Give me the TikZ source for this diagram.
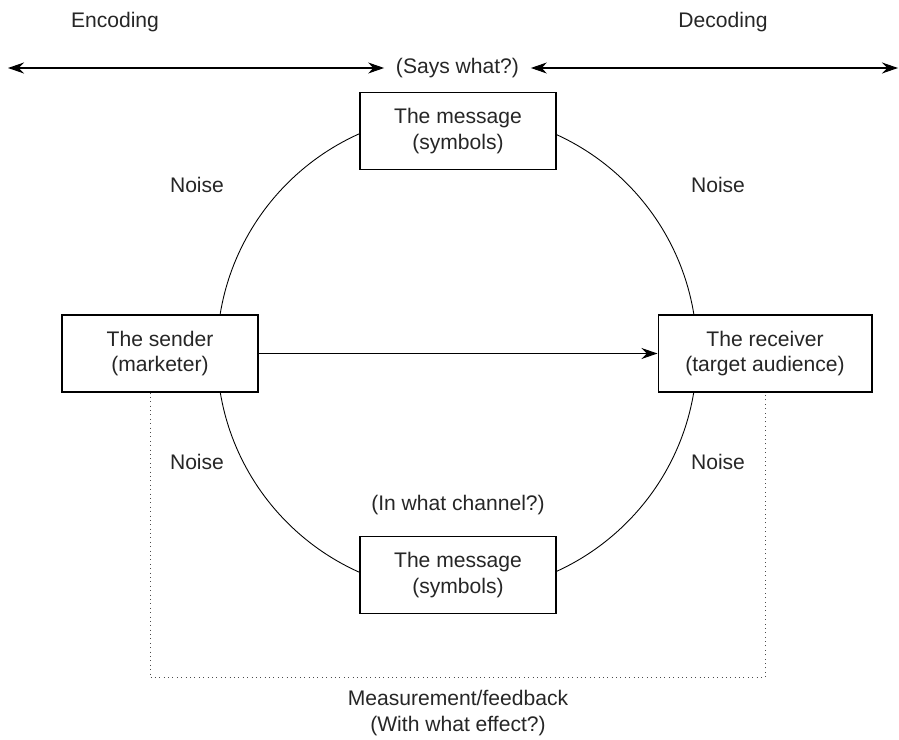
\documentclass[tikz,border=0pt]{standalone}
\usepackage{fontspec}
\setmainfont{Liberation Sans}
\usetikzlibrary{arrows.meta,positioning}

\begin{document}
\begin{tikzpicture}[
    x=0.02cm, y=-0.02cm,
    box/.style={draw, line width=0.6pt, fill=white, align=center,
        minimum width=3.92cm, minimum height=1.54cm, inner sep=0pt,
        font=\fontsize{12}{14.4}\selectfont, text=black!85},
    lbl/.style={font=\fontsize{12}{14.4}\selectfont, text=black!85, align=center},
    arr/.style={-{Stealth[length=3.2mm, width=2.2mm]}, line width=0.6pt},
    dbl/.style={{Stealth[length=3.2mm, width=2.2mm]}-{Stealth[length=3.2mm, width=2.2mm]}, line width=0.6pt},
    fb/.style={dotted, line width=0.5pt, black!70},
]
\useasboundingbox (0,0) rectangle (899,740);

% headings
\node[lbl] (enc) at (115,22) {Encoding};
\node[lbl] (dec) at (723,22) {Decoding};
\node[lbl, inner sep=0.23cm] (says) at (457.5,68) {(Says what?)};
\coordinate (leftend) at (8,68);
\coordinate (rightend) at (898,68);
\draw[dbl] (leftend) -- (says.west);
\draw[dbl] (says.east) -- (rightend);

% the loop
\coordinate (hub) at (457,353);
\draw[line width=0.5pt] (hub) circle (4.8cm);

\node[box] (msgtop) at (458,131) {The message\\(symbols)};
\node[box] (msgbot) at (458,575) {The message\\(symbols)};
\node[box] (sender) at (160,353.5) {The sender\\(marketer)};
\node[box, minimum width=4.28cm] (receiver) at (765,353.5)
    {The receiver\\(target audience)};

\draw[arr] (sender.east) -- (receiver.west);

% noise
\node[lbl] (noiseA) at (197,185) {Noise};
\node[lbl] (noiseB) at (718,185) {Noise};
\node[lbl] (noiseC) at (197,462) {Noise};
\node[lbl] (noiseD) at (718,462) {Noise};
\node[lbl] (channel) at (458,505) {(In what channel?)};

% feedback loop
\draw[fb] ([xshift=-0.2cm]sender.south) -- ++(0,285) -| (receiver.south);
\node[lbl] (feedback) at (458,713)
    {Measurement/feedback\\(With what effect?)};
\end{tikzpicture}
\end{document}
